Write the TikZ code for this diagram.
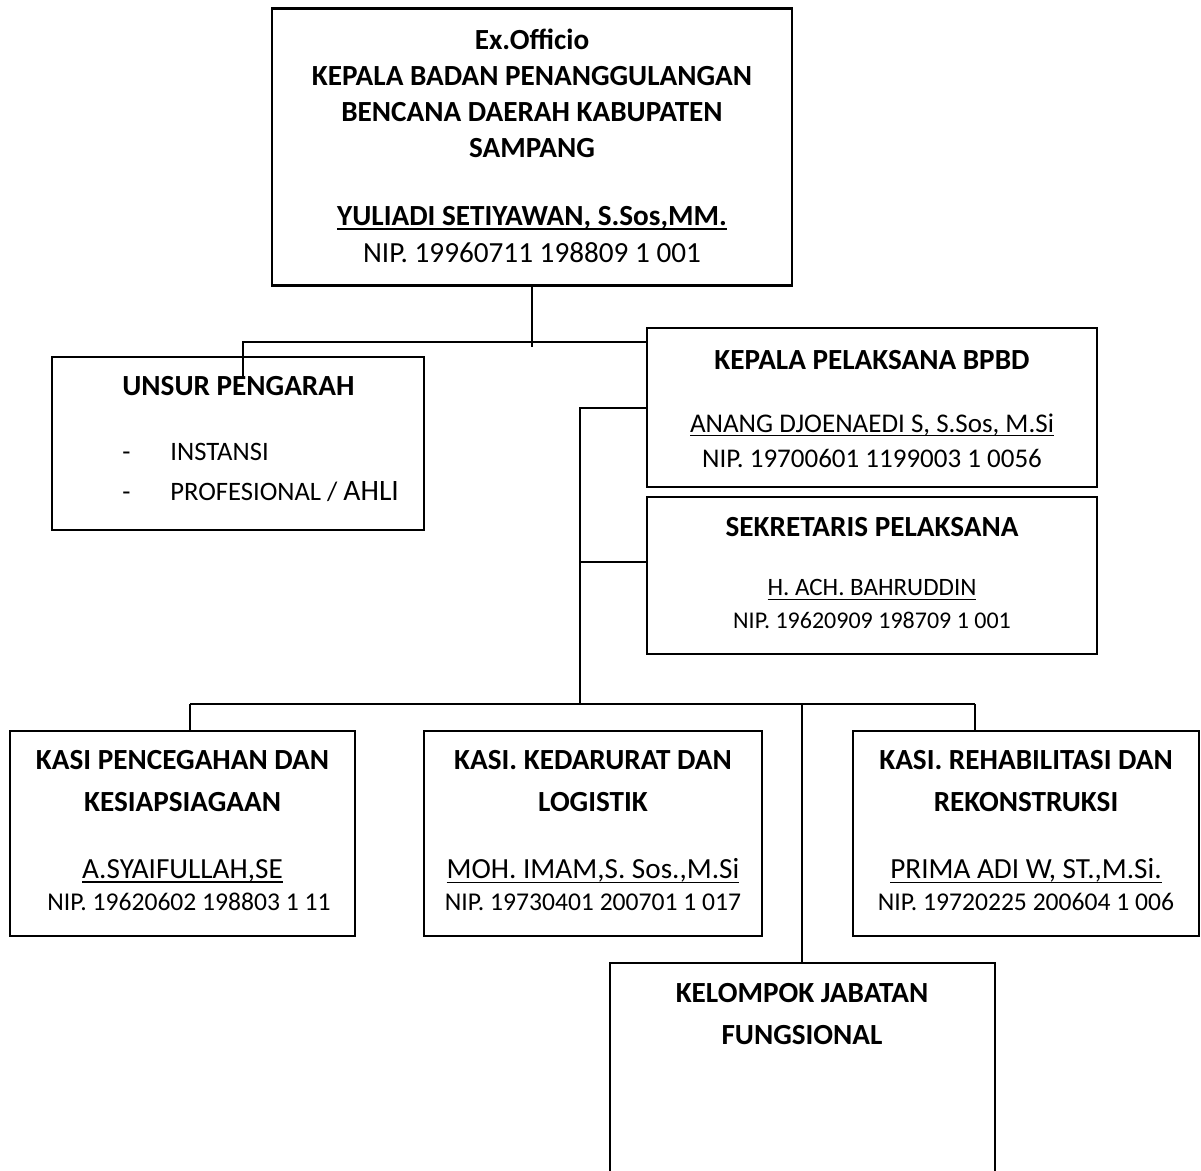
\documentclass[tikz,border=0pt]{standalone}
\usepackage{fontspec}
\setmainfont{Carlito}
\newcommand{\garisbawah}[1]{\setbox0\hbox{#1}\rlap{\rule[-2.2pt]{\wd0}{0.85pt}}\box0}

\tikzset{
  kotak/.style={draw, line width=1.1pt, inner sep=0pt},
  garis/.style={line width=0.9pt},
  judul/.style={font=\fontsize{14.6}{18}\selectfont\bfseries, align=center, inner sep=0pt},
  nama/.style={font=\fontsize{14.6}{17}\selectfont, inner sep=0pt},
  nip/.style={font=\fontsize{12.8}{15}\selectfont, inner sep=0pt},
}

\begin{document}
\begin{tikzpicture}[x=0.5pt,y=-0.5pt]
  \clip (0,0) rectangle (1201,1171);
  % kotak-kotak
  \node[kotak, minimum width=260pt, minimum height=138.5pt] (atas) at (532,147) {};
  \node[kotak, minimum width=186pt, minimum height=86.5pt] (unsur) at (238,443.5) {};
  \node[kotak, minimum width=225pt, minimum height=79.5pt] (kepala) at (872,407.5) {};
  \node[kotak, minimum width=225pt, minimum height=78.5pt] (sekre) at (872,575.5) {};
  \node[kotak, minimum width=192.5pt, minimum height=118.5pt] (kelompok) at (802.5,1081.5) {};
  \foreach \nm/\x/\w in {kasiA/182.5/172.5, kasiB/593/169, kasiC/1026/173}
    \node[kotak, minimum width=\w pt, minimum height=102.5pt] (\nm) at (\x,833.5) {};

  % isi kotak atas
  \node[judul] (tAtas) at (532,93) {Ex.Officio\\KEPALA BADAN PENANGGULANGAN\\BENCANA DAERAH KABUPATEN\\SAMPANG};
  \node[nama, font=\fontsize{14.6}{17}\selectfont\bfseries] (nAtas) at (532,218) {\garisbawah{YULIADI SETIYAWAN, S.Sos,MM.}};
  \node[nama] (pAtas) at (532,253) {NIP. 19960711 198809 1 001};

  % unsur pengarah
  \node[judul, anchor=west] (tUnsur) at (122,386) {UNSUR PENGARAH};
  \node[nip, anchor=base west, font=\fontsize{13.3}{16}\selectfont] (d1) at (122,461) {-};
  \node[nip, anchor=base west, font=\fontsize{13.3}{16}\selectfont] (i1) at (170,461) {INSTANSI};
  \node[nip, anchor=base west, font=\fontsize{13.3}{16}\selectfont] (d2) at (122,501) {-};
  \node[nip, anchor=base west, font=\fontsize{13.3}{16}\selectfont] (i2) at (170,501) {PROFESIONAL / {\fontsize{14.8}{17}\selectfont AHLI}};

  % kepala pelaksana dan sekretaris
  \node[judul] (tKepala) at (872,360) {KEPALA PELAKSANA BPBD};
  \node[nama, font=\fontsize{13.5}{16}\selectfont] (nKepala) at (872,425) {\garisbawah{ANANG DJOENAEDI S, S.Sos, M.Si}};
  \node[nama, font=\fontsize{13.5}{16}\selectfont] (pKepala) at (872,458) {NIP. 19700601 1199003 1 0056};
  \node[judul] (tSekre) at (872,527) {SEKRETARIS PELAKSANA};
  \node[nama, font=\fontsize{12.5}{15}\selectfont] (nSekre) at (872,590) {\garisbawah{H. ACH. BAHRUDDIN}};
  \node[nip, font=\fontsize{12}{15}\selectfont] (pSekre) at (872,620) {NIP. 19620909 198709 1 001};

  % kasi
  \node[judul, font=\fontsize{14.6}{21}\selectfont\bfseries] (tKasiA) at (182.5,781) {KASI PENCEGAHAN DAN\\KESIAPSIAGAAN};
  \node[nama] (nKasiA) at (182.5,871) {\garisbawah{A.SYAIFULLAH,SE}};
  \node[nip] (pKasiA) at (189,902) {NIP. 19620602 198803 1 11};
  \node[judul, font=\fontsize{14.6}{21}\selectfont\bfseries] (tKasiB) at (593,781) {KASI. KEDARURAT DAN\\LOGISTIK};
  \node[nama] (nKasiB) at (593,871) {\garisbawah{MOH. IMAM,S. Sos.,M.Si}};
  \node[nip] (pKasiB) at (593,902) {NIP. 19730401 200701 1 017};
  \node[judul, font=\fontsize{14.6}{21}\selectfont\bfseries] (tKasiC) at (1026,781) {KASI. REHABILITASI DAN\\REKONSTRUKSI};
  \node[nama] (nKasiC) at (1026,871) {\garisbawah{PRIMA ADI W, ST.,M.Si.}};
  \node[nip] (pKasiC) at (1026,902) {NIP. 19720225 200604 1 006};

  \node[judul, font=\fontsize{14.6}{21}\selectfont\bfseries] (tKelompok) at (802,1014) {KELOMPOK JABATAN\\FUNGSIONAL};

  % garis penghubung
  \coordinate (cA) at (243,342);
  \coordinate (cB) at (243,378);
  \coordinate (cC) at (532,347);
  \draw[garis] (atas.south) -- (cC);
  \draw[garis] (cB) -- (cA) -- (cA -| kepala.west);

  \coordinate (sp1) at (580,408);
  \coordinate (sp2) at (580,704);
  \coordinate (sp3) at (580,562);
  \draw[garis] (sp1 -| kepala.west) -- (sp1) -- (sp2);
  \draw[garis] (sp3) -- (sp3 -| sekre.west);

  \coordinate (b1) at (190,704);
  \coordinate (b2) at (802,704);
  \coordinate (b3) at (975,704);
  \draw[garis] (b1) -- (b3);
  \draw[garis] (b1) -- (b1 |- kasiA.north);
  \draw[garis] (b3) -- (b3 |- kasiC.north);
  \draw[garis] (b2) -- (b2 |- kelompok.north);
\end{tikzpicture}
\end{document}
